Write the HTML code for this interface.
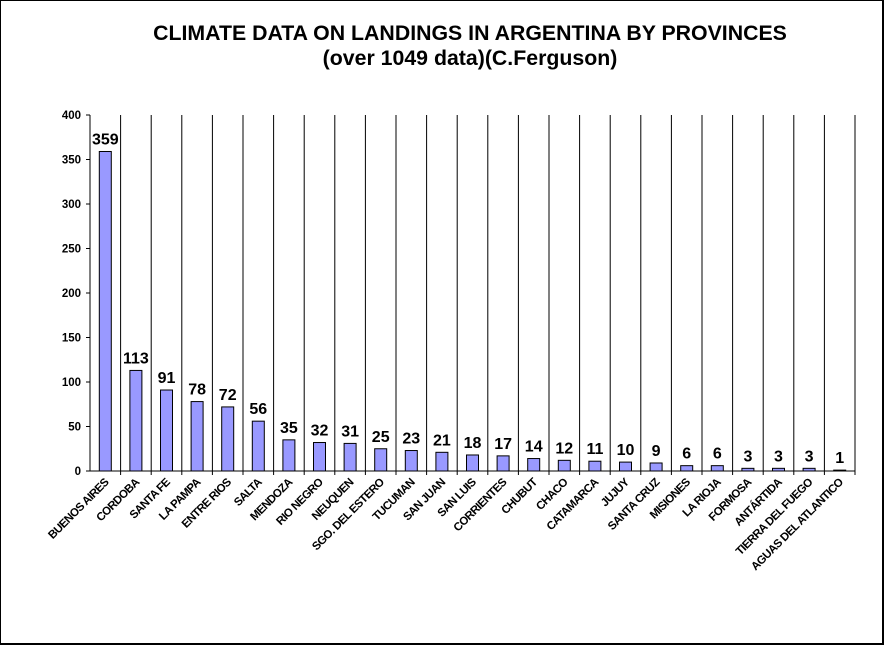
<!DOCTYPE html>
<html><head><meta charset="utf-8"><style>
html,body{margin:0;padding:0;background:#fff}
#wrap{position:relative;width:884px;height:645px;box-sizing:border-box;border:2px solid #000;border-top:1px solid #000;border-left:1px solid #000}
svg text{font-family:"Liberation Sans",Arial,sans-serif;font-weight:bold}
</style></head><body>
<div id="wrap">
<svg id="chart" width="884" height="645" style="position:absolute;left:-1px;top:-1px">
<text x="470" y="40" text-anchor="middle" font-size="21.3">CLIMATE DATA ON LANDINGS IN ARGENTINA BY PROVINCES</text>
<text x="470" y="65" text-anchor="middle" font-size="21.3">(over 1049 data)(C.Ferguson)</text>
</svg>
</div>
<script>
const categories=["BUENOS AIRES","CORDOBA","SANTA FE","LA PAMPA","ENTRE RIOS","SALTA","MENDOZA","RIO NEGRO","NEUQUEN","SGO. DEL ESTERO","TUCUMAN","SAN JUAN","SAN LUIS","CORRIENTES","CHUBUT","CHACO","CATAMARCA","JUJUY","SANTA CRUZ","MISIONES","LA RIOJA","FORMOSA","ANTÁRTIDA","TIERRA DEL FUEGO","AGUAS DEL ATLANTICO"];
const values=[359,113,91,78,72,56,35,32,31,25,23,21,18,17,14,12,11,10,9,6,6,3,3,3,1];
const yTicks=[0,50,100,150,200,250,300,350,400];
const svg=document.getElementById('chart');
const NS='http://www.w3.org/2000/svg';
const X0=90,X1=855,Y0=471,Y1=115,YMAX=400;
const slot=(X1-X0)/categories.length;
const y=v=>Y0-(v/YMAX)*(Y0-Y1);
const xc=i=>X0+slot*(i+0.5);
function mk(t,a){const e=document.createElementNS(NS,t);for(const k in a)e.setAttribute(k,a[k]);svg.appendChild(e);return e;}
for(let i=1;i<=categories.length;i++){
 const l=mk('line',{x1:X0+slot*i,x2:X0+slot*i,y1:Y1,y2:Y0+4,stroke:'#000','stroke-width':1});
 
 
}
const ax=mk('line',{x1:X0,x2:X0,y1:Y1,y2:Y0,stroke:'#000'});


const xa=mk('line',{x1:X0,x2:X1,y1:Y0,y2:Y0,stroke:'#000'});


yTicks.forEach(t=>{
 const tk=mk('line',{x1:X0-4,x2:X0,y1:y(t),y2:y(t),stroke:'#000'});
 
 
 const tx=mk('text',{x:X0-9,y:y(t)+4,'text-anchor':'end','font-size':11.5});
 tx.textContent=t;
 
 
});
categories.forEach((c,i)=>{
 const v=values[i];
 const b=mk('rect',{x:xc(i)-6,y:y(v),width:12,height:Y0-y(v),fill:'#9999ff',stroke:'#000','stroke-width':1});
 
 
 const vl=mk('text',{x:xc(i),y:y(v)-7,'text-anchor':'middle','font-size':16});
 vl.textContent=v;
 
 
 const cl=mk('text',{x:xc(i)+4,y:Y0+12,'text-anchor':'end','font-size':11.5,'letter-spacing':'-0.6',transform:`rotate(-45 ${xc(i)+4} ${Y0+12})`});
 cl.textContent=c;
 
 
});
</script>
</body></html>
